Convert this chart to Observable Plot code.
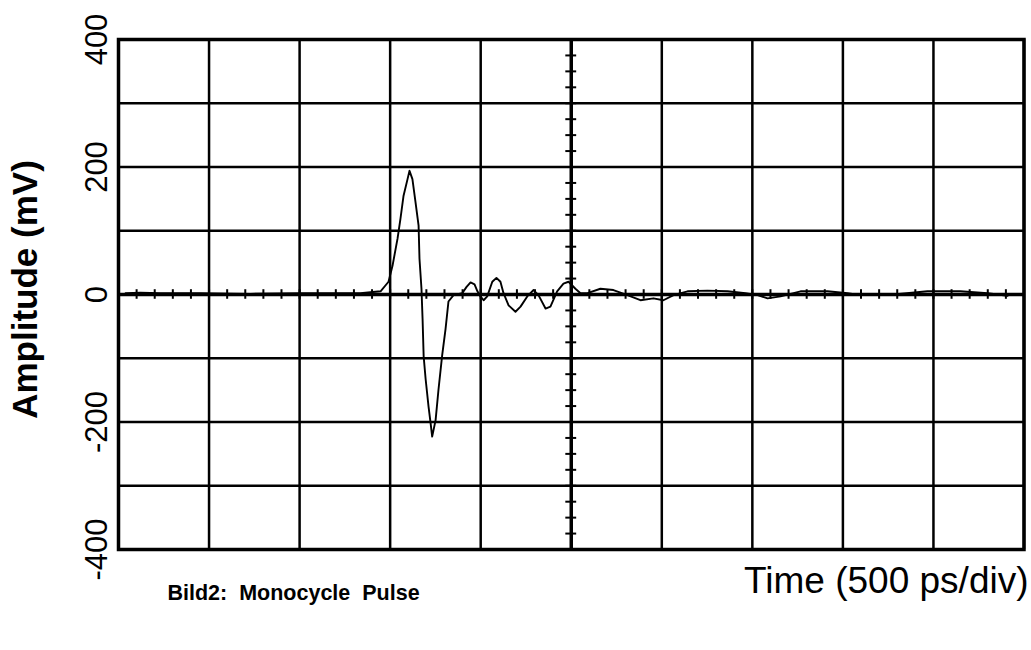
<!DOCTYPE html>
<html>
<head>
<meta charset="utf-8">
<script src="https://cdn.jsdelivr.net/npm/d3@7"></script>
<script src="https://cdn.jsdelivr.net/npm/@observablehq/plot@0.6"></script>
<style>
  html, body { margin: 0; padding: 0; background: #fff; }
</style>
</head>
<body>
<div id="chart"></div>
<script>
// Time in ps (500 ps per division, 10 divisions), amplitude in mV
const timePs = [39, 121, 232, 453, 729, 1005, 1226, 1336, 1447, 1491, 1513, 1541, 1557, 1574, 1596, 1607, 1623, 1640, 1657, 1662, 1673, 1679, 1685, 1696, 1712, 1723, 1732, 1751, 1767, 1787, 1806, 1822, 1850, 1898, 1922, 1944, 1966, 1982, 1999, 2016, 2036, 2064, 2087, 2109, 2126, 2154, 2192, 2220, 2257, 2292, 2319, 2358, 2385, 2422, 2457, 2485, 2523, 2551, 2590, 2661, 2733, 2810, 2882, 2954, 3009, 3065, 3142, 3252, 3363, 3462, 3529, 3584, 3656, 3766, 3915, 4026, 4097, 4280, 4467, 4649, 4799, 4909];
const amplitudeMv = [2, 3, 2, 2, 1, 2, 2, 2, 5, 20, 45, 88, 119, 155, 181, 194, 181, 145, 108, 56, 9, -38, -97, -133, -176, -201, -223, -197, -149, -96, -54, -11, -1, 2, 12, 19, 16, 5, -3, -9, -3, 20, 26, 20, 2, -17, -27, -19, -3, 7, -1, -22, -19, 5, 17, 20, 9, 2, 2, 9, 7, -1, -9, -6, -9, -1, 5, 6, 5, 2, -1, -6, -3, 5, 5, 2, -1, 0, 5, 5, 2, -2];

const yTickLabels = [-400, -200, 0, 200, 400];
const xGrid = d3.range(0, 5001, 500);
const yGrid = d3.range(-400, 401, 100);
const xMinor = d3.range(0, 5001, 100);
const yMinor = d3.range(-400, 401, 25);
const xCenter = 2500;

const trace = timePs.map((t, i) => ({t, mv: amplitudeMv[i]}));

const font = "'Liberation Sans', Arial, Helvetica, sans-serif";

const chart = Plot.plot({
  width: 1031,
  height: 650,
  marginLeft: 118,
  marginRight: 7.5,
  marginTop: 39,
  marginBottom: 101,
  style: {background: "#fff", fontFamily: font, color: "#000"},
  x: {domain: [0, 5000], axis: null},
  y: {domain: [-400, 400], axis: null},
  marks: [
    Plot.ruleX(xGrid, {stroke: "#000", strokeWidth: 2.5}),
    Plot.ruleY(yGrid, {stroke: "#000", strokeWidth: 2.5}),
    Plot.ruleX([xCenter], {stroke: "#000", strokeWidth: 3.5}),
    Plot.ruleY([0], {stroke: "#000", strokeWidth: 3.5}),
    Plot.ruleX(xMinor, {x: d => d, y1: -7.5, y2: 7.5, stroke: "#000", strokeWidth: 2}),
    Plot.ruleY(yMinor, {y: d => d, x1: xCenter - 30, x2: xCenter + 30, stroke: "#000", strokeWidth: 2}),
    Plot.frame({stroke: "#000", strokeWidth: 3.5}),
    Plot.line(trace, {x: "t", y: "mv", stroke: "#000", strokeWidth: 1.9, curve: "linear"}),
    Plot.axisY(yTickLabels, {anchor: "left", tickSize: 0, tickRotate: -90, tickPadding: 12, tickFormat: d => String(d), fontSize: 31, fontFamily: font, label: null}),
    Plot.text(["Amplitude (mV)"], {text: d => d, frameAnchor: "left", textAnchor: "middle", rotate: -90, dx: -93, dy: -5, fontSize: 35, fontWeight: "bold", fontFamily: font, fill: "#000"}),
    Plot.text(["Time (500 ps/div)"], {text: d => d, frameAnchor: "bottom-right", textAnchor: "end", dx: 4.5, dy: 43, fontSize: 37, fontFamily: font, fill: "#000"}),
    Plot.text(["Bild2:\u00a0 Monocycle\u00a0 Pulse"], {text: d => d, frameAnchor: "bottom-left", textAnchor: "start", dx: 49, dy: 50, fontSize: 21.5, fontWeight: "bold", fontFamily: font, fill: "#000"})
  ]
});

document.getElementById("chart").appendChild(chart);
</script>
</body>
</html>
